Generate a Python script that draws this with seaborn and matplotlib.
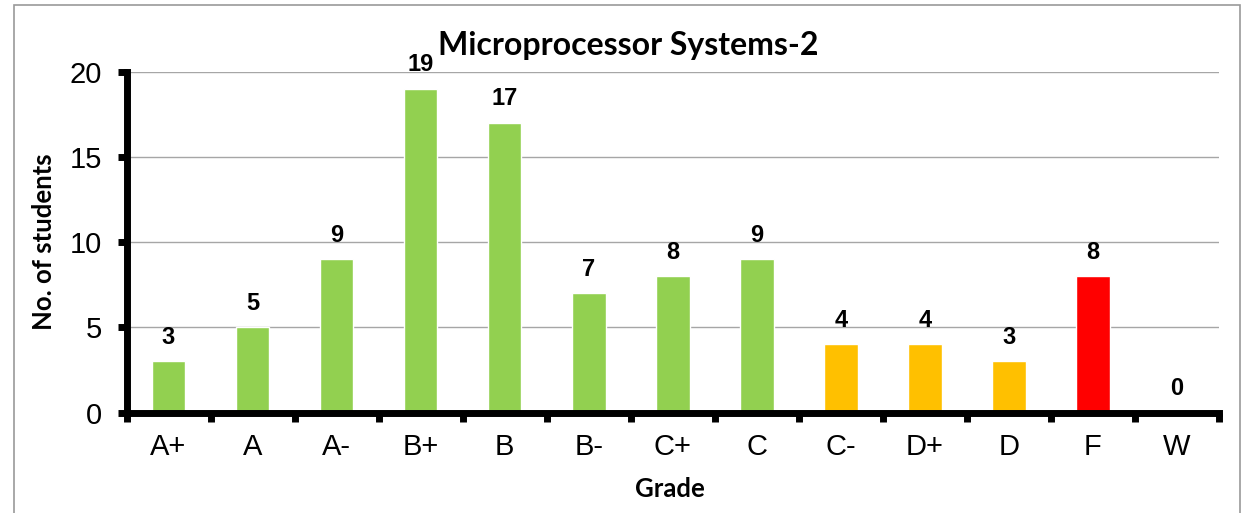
import matplotlib
matplotlib.use("Agg")
import matplotlib.pyplot as plt
import matplotlib.patches as mpatches
import pandas as pd
import seaborn as sns

grades = ["A+", "A", "A-", "B+", "B", "B-", "C+", "C", "C-", "D+", "D", "F", "W"]
students = [3, 5, 9, 19, 17, 7, 8, 9, 4, 4, 3, 8, 0]
bar_colors = ["#92D050"] * 8 + ["#FFC000"] * 3 + ["#FF0000", "#92D050"]

df = pd.DataFrame({"grade": grades, "students": students})

sns.set_style("white")
plt.rcParams["font.family"] = ["Liberation Sans", "DejaVu Sans"]
plt.rcParams["text.color"] = "black"
plt.rcParams["axes.labelcolor"] = "black"
plt.rcParams["xtick.color"] = "black"
plt.rcParams["ytick.color"] = "black"

W, H = 1243, 513
fig = plt.figure(figsize=(W / 100, H / 100), dpi=100)
ax = fig.add_axes([126.5 / W, (H - 412.5) / H, (1219 - 126.5) / W, (412.5 - 71.7) / H])

sns.barplot(data=df, x="grade", y="students", hue="grade", palette=bar_colors,
            legend=False, width=0.4, saturation=1, ax=ax)

for c in ax.containers:
    ax.bar_label(c, fontsize=17, fontweight="bold", padding=9, color="black")

ax.set_ylim(0, 20)
ax.set_xlim(-0.5, len(grades) - 0.5)
ax.set_yticks([0, 5, 10, 15, 20])
ax.tick_params(axis="y", labelsize=21, direction="out", length=6.5, width=5,
               left=True, pad=11)
ax.set_xticks(range(len(grades)))
ax.set_xticklabels(grades)
ax.set_xticks([i - 0.5 for i in range(len(grades) + 1)], minor=True)
ax.tick_params(axis="x", which="major", length=0, labelsize=21, pad=15)
ax.tick_params(axis="x", which="minor", direction="out", length=6.5, width=5,
               bottom=True)

ax.yaxis.grid(True, color="#A6A6A6", linewidth=1)
ax.set_axisbelow(True)
for s in ["top", "right"]:
    ax.spines[s].set_visible(False)
for s in ["left", "bottom"]:
    ax.spines[s].set_color("black")
    ax.spines[s].set_linewidth(5)

lab_font = ["Lato", "DejaVu Sans"]
ax.set_xlabel("")
ax.set_ylabel("")
fig.text(670 / W, 1 - 489 / H, "Grade", ha="center", va="center",
         fontsize=18.5, fontweight="bold", family=lab_font)
fig.text(44 / W, 1 - 242 / H, "No. of students", ha="center", va="center",
         rotation=90, fontsize=18.5, fontweight="bold", family=lab_font)
fig.text(628 / W, 1 - 46 / H, "Microprocessor Systems-2", ha="center",
         va="center", fontsize=23, fontweight="bold", family=lab_font)

fig.patches.append(mpatches.Rectangle((14 / W, -0.05), 1226 / W, 1.05 - 4.5 / H,
                                      transform=fig.transFigure, fill=False,
                                      edgecolor="#9A9A9A", linewidth=1.2))

fig.savefig("out.png", dpi=100)
